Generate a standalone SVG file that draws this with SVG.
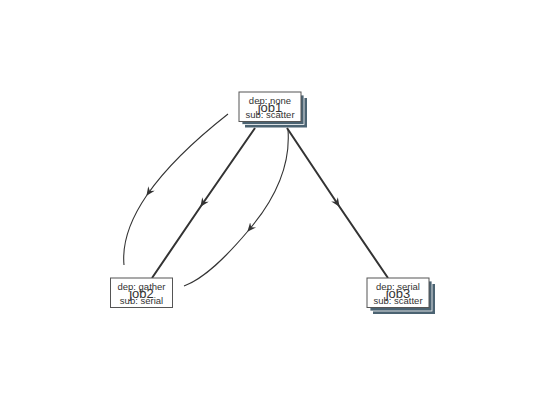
<svg xmlns="http://www.w3.org/2000/svg" width="540" height="400" viewBox="0 0 540 400">
<style>
.box{fill:#fff;stroke:#555;stroke-width:1}
.sh{fill:#4b6372}
.sh2{fill:#4b6372;stroke:#fff;stroke-width:0.8}
.t{font-family:"Liberation Sans",Arial,sans-serif;fill:#333;text-anchor:middle}
.s{font-size:9.5px}
.n{font-size:13px}
.e{fill:none;stroke:#333}
.thick{stroke-width:2}
.thin{stroke-width:1.1}
</style>
<defs>
<marker id="ah" viewBox="0 0 10 8" refX="8" refY="4" markerWidth="10" markerHeight="8" markerUnits="userSpaceOnUse" orient="auto">
<path d="M0,0 L9,4 L0,8 L3,4 z" fill="#333"/>
</marker>
</defs>
<rect width="540" height="400" fill="#fff"/>
<g id="edges">
<path class="e thick" d="M255,128 L201,206 L152,278" marker-mid="url(#ah)"/>
<path class="e thick" d="M287,128 L339,206 L388,278" marker-mid="url(#ah)"/>
<path class="e thin" d="M228,114 Q173,157.25 147,195 Q121,232.75 124,265" marker-mid="url(#ah)"/>
<path class="e thin" d="M288,130 C291,170 272,203 248,231 C226,257 205,278 184,286" marker-mid="url(#ah)"/>
</g>
<g id="job1">
<rect class="sh" x="245" y="98" width="62" height="29.5"/>
<rect class="sh2" x="242" y="95" width="62" height="29.5"/>
<rect class="box" x="239" y="92" width="62" height="29.5"/>
<text class="t s" x="270" y="104">dep: none</text>
<text class="t n" x="270" y="111.5">job1</text>
<text class="t s" x="270" y="118">sub: scatter</text>
</g>
<g id="job2">
<rect class="box" x="110.5" y="278" width="62" height="29.5"/>
<text class="t s" x="141.5" y="290">dep: gather</text>
<text class="t n" x="141.5" y="297.5">job2</text>
<text class="t s" x="141.5" y="304">sub: serial</text>
</g>
<g id="job3">
<rect class="sh" x="373" y="284" width="62" height="30"/>
<rect class="sh2" x="370" y="281" width="62" height="30"/>
<rect class="box" x="367" y="278" width="62" height="29.5"/>
<text class="t s" x="398" y="290">dep: serial</text>
<text class="t n" x="398" y="297.5">job3</text>
<text class="t s" x="398" y="304">sub: scatter</text>
</g>
</svg>
